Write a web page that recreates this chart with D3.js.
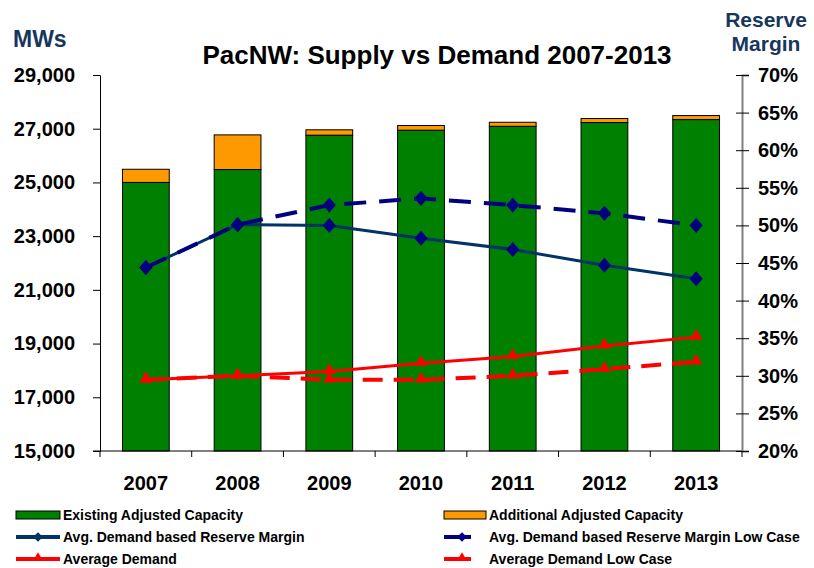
<!DOCTYPE html>
<html>
<head>
<meta charset="utf-8">
<script src="https://cdn.jsdelivr.net/npm/d3@7"></script>
<style>
  body { margin: 0; background: #fff; }
  text { font-family: Arial, "Liberation Sans", sans-serif; font-weight: bold; }
</style>
</head>
<body>
<svg id="chart" width="814" height="568"></svg>
<script>
const years = ['2007', '2008', '2009', '2010', '2011', '2012', '2013'];
const existing = [25000, 25480, 26760, 26945, 27090, 27230, 27340];
const additional = [490, 1290, 200, 175, 150, 150, 150];
const reserveMargin = [44.4, 50.1, 50.0, 48.3, 46.8, 44.7, 42.9];
const reserveMarginLow = [44.4, 50.1, 52.7, 53.6, 52.7, 51.6, 50.0];
const avgDemand = [17650, 17800, 17960, 18270, 18520, 18910, 19240];
const avgDemandLow = [17650, 17800, 17650, 17650, 17800, 18050, 18320];
const mwTicks = [15000, 17000, 19000, 21000, 23000, 25000, 27000, 29000];
const pctTicks = [20, 25, 30, 35, 40, 45, 50, 55, 60, 65, 70];

const margin = {top: 75, right: 72, bottom: 117, left: 100};
const width = 814 - margin.left - margin.right;
const height = 568 - margin.top - margin.bottom;

const svg = d3.select('#chart');
const g = svg.append('g')
    .attr('transform', `translate(${margin.left},${margin.top})`);

const x = d3.scaleBand()
    .domain(years)
    .range([0, width])
    .paddingInner(0.49)
    .paddingOuter(0.245);

const yL = d3.scaleLinear().domain([15000, 29000]).range([height, 0]);
const yR = d3.scaleLinear().domain([20, 70]).range([height, 0]);

// stacked bars
const rows = years.map((y, i) => ({year: y, existing: existing[i], additional: additional[i]}));
const stack = d3.stack().keys(['existing', 'additional'])(rows);
const barColors = {existing: '#008000', additional: '#FF9900'};

g.selectAll('.layer')
    .data(stack)
    .join('g')
    .attr('fill', d => barColors[d.key])
    .selectAll('rect')
    .data(d => d)
    .join('rect')
    .attr('x', d => x(d.data.year))
    .attr('width', x.bandwidth())
    .attr('y', d => yL(Math.max(d[1], 15000)))
    .attr('height', d => yL(Math.max(d[0], 15000)) - yL(Math.max(d[1], 15000)))
    .attr('stroke', '#000')
    .attr('stroke-width', 1);

// axes
const leftAxis = d3.axisLeft(yL).tickValues(mwTicks).tickSize(7).tickPadding(18)
    .tickFormat(d3.format(','));
const gl = g.append('g').call(leftAxis);
gl.selectAll('text').attr('font-size', 20).attr('fill', '#000');
gl.select('.domain').attr('stroke', '#000');

const rightAxis = d3.axisRight(yR).tickValues(pctTicks).tickSize(7).tickPadding(9)
    .tickFormat(d => d + '%');
const gr = g.append('g').attr('transform', `translate(${width},0)`).call(rightAxis);
gr.selectAll('.tick line').attr('x1', -6);
gr.selectAll('text').attr('font-size', 20).attr('fill', '#000');
gr.select('.domain').attr('stroke', '#808080').attr('stroke-width', 2);

const gx = g.append('g').attr('transform', `translate(0,${height})`);
gx.append('line').attr('x1', -7).attr('x2', width).attr('stroke', '#000');
const gap = (x.step() - x.bandwidth()) / 2;
const bounds = years.map(y => x(y) - gap).concat([width]);
gx.selectAll('.xtick')
    .data(bounds)
    .join('line')
    .attr('x1', d => d).attr('x2', d => d)
    .attr('y1', 0).attr('y2', 6)
    .attr('stroke', '#000');
gx.selectAll('.xlab')
    .data(years)
    .join('text')
    .attr('x', d => x(d) + x.bandwidth() / 2)
    .attr('y', 39)
    .attr('text-anchor', 'middle')
    .attr('font-size', 20)
    .text(d => d);

// lines
const series = [
  {name: 'Average Demand', values: avgDemand, scale: yL, color: '#FF0000', dash: null, marker: 'triangle'},
  {name: 'Average Demand Low Case', values: avgDemandLow, scale: yL, color: '#FF0000', dash: '20,11', marker: 'triangle'},
  {name: 'Avg. Demand based Reserve Margin', values: reserveMargin, scale: yR, color: '#003366', dash: null, marker: 'diamond'},
  {name: 'Avg. Demand based Reserve Margin Low Case', values: reserveMarginLow, scale: yR, color: '#000080', dash: '22,13', marker: 'diamond'}
];
const cx = i => x(years[i]) + x.bandwidth() / 2;

series.forEach(s => {
  const line = d3.line().x((d, i) => cx(i)).y(d => s.scale(d));
  g.append('path')
      .datum(s.values)
      .attr('d', line)
      .attr('fill', 'none')
      .attr('stroke', s.color)
      .attr('stroke-width', s.dash ? 4 : 3)
      .attr('stroke-dasharray', s.dash);
});
series.forEach(s => {
  const sym = s.marker === 'diamond'
      ? d3.symbol().type(d3.symbolDiamond2).size(110)
      : d3.symbol().type(d3.symbolTriangle2).size(110);
  g.append('g').selectAll('path')
      .data(s.values)
      .join('path')
      .attr('d', sym)
      .attr('transform', (d, i) => s.marker === 'diamond'
          ? `translate(${cx(i)},${s.scale(d)}) scale(1,1.15)`
          : `translate(${cx(i)},${s.scale(d) - 1})`)
      .attr('fill', s.marker === 'diamond' ? '#000080' : '#FF0000');
});

// titles
svg.append('text')
    .attr('x', 437).attr('y', 64)
    .attr('text-anchor', 'middle')
    .attr('font-size', 26)
    .text('PacNW: Supply vs Demand 2007-2013');
svg.append('text')
    .attr('x', 13).attr('y', 47)
    .attr('font-size', 23)
    .attr('fill', '#17365D')
    .text('MWs');
svg.append('text')
    .attr('x', 766).attr('y', 27)
    .attr('text-anchor', 'middle')
    .attr('font-size', 21)
    .attr('fill', '#17365D')
    .text('Reserve');
svg.append('text')
    .attr('x', 766).attr('y', 51)
    .attr('text-anchor', 'middle')
    .attr('font-size', 21)
    .attr('fill', '#17365D')
    .text('Margin');

// legend
const legendItems = [
  {label: 'Existing Adjusted Capacity', type: 'rect', color: '#008000', col: 0, row: 0},
  {label: 'Additional Adjusted Capacity', type: 'rect', color: '#FF9900', col: 1, row: 0},
  {label: 'Avg. Demand based Reserve Margin', type: 'diamond', color: '#003366', mcolor: '#003366', col: 0, row: 1},
  {label: 'Avg. Demand based Reserve Margin Low Case', type: 'diamond', color: '#000080', mcolor: '#000080', col: 1, row: 1},
  {label: 'Average Demand', type: 'triangle', color: '#FF0000', mcolor: '#FF0000', col: 0, row: 2},
  {label: 'Average Demand Low Case', type: 'triangle', color: '#FF0000', mcolor: '#FF0000', col: 1, row: 2}
];
const colX = [16, 444];
const leg = svg.append('g');
legendItems.forEach(it => {
  const lx = colX[it.col];
  const ly = 515 + it.row * 22;
  const item = leg.append('g').attr('transform', `translate(${lx},${ly})`);
  const sw = it.col === 0 ? 44 : 27;
  if (it.type === 'rect') {
    item.append('rect').attr('x', 0).attr('y', -4).attr('width', it.col === 0 ? 44 : 42).attr('height', 8)
        .attr('fill', it.color).attr('stroke', '#000').attr('stroke-width', 1);
  } else {
    item.append('line').attr('x1', 0).attr('x2', sw).attr('stroke', it.color).attr('stroke-width', 4);
    const sym = it.type === 'diamond'
        ? d3.symbol().type(d3.symbolDiamond2).size(60)
        : d3.symbol().type(d3.symbolTriangle2).size(70);
    item.append('path').attr('d', sym)
        .attr('transform', `translate(${it.col === 0 ? 22 : 18},${it.type === 'triangle' ? -1 : 0})`)
        .attr('fill', it.mcolor);
  }
  item.append('text')
      .attr('x', it.col === 0 ? 47 : 45)
      .attr('y', 5)
      .attr('font-size', 14)
      .text(it.label);
});
</script>
</body>
</html>
